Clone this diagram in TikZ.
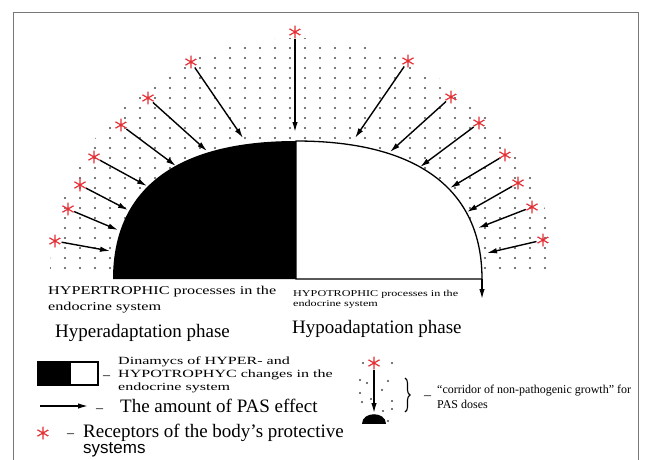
\documentclass[tikz,border=0pt]{standalone}
\usepackage{fontspec}
\setmainfont{Liberation Serif}
\newfontfamily\widefont[FakeStretch=1.35]{Liberation Serif}
\newfontfamily\widerfont[FakeStretch=1.46]{Liberation Serif}
\newfontfamily\plainsans{Liberation Sans}
\usetikzlibrary{arrows.meta,decorations.pathreplacing}
\definecolor{recred}{RGB}{228,48,52}
\definecolor{framegray}{RGB}{120,120,120}
\definecolor{dotgray}{RGB}{75,75,75}

\begin{document}
\begin{tikzpicture}[x=1pt,y=-1pt,>={Latex[length=10pt,width=5.5pt]},
  receptor/.style={circle,inner sep=0pt,minimum size=13pt,
    path picture={\draw[recred,line width=1.2pt]
      (path picture bounding box.center) +(90:6.5pt) -- +(270:6.5pt)
      +(30:6.5pt) -- +(210:6.5pt) +(150:6.5pt) -- +(330:6.5pt);}},
  pas/.style={->,line width=1.4pt},
  pasdot/.style={fill=dotgray},
  txt/.style={inner sep=0pt,anchor=north west,align=left},
  phasetxt/.style={inner sep=0pt,anchor=base west,font=\fontsize{19}{22}\selectfont},
  dashmark/.style={inner sep=0pt,anchor=base west,font=\fontsize{14}{14}\selectfont}]

  \useasboundingbox (0,0) rectangle (645,460);
  \draw[framegray,line width=0.8pt] (13,460) -- (13,12) -- (638,12) -- (638,460);

  % dotted corridor round the semi-ellipse
  \begin{scope}
    \clip (50,276) .. controls (50,145) and (160,38) .. (296,38)
      .. controls (440,38) and (556,150) .. (556,276) -- cycle;
    \foreach \px in {50,65,...,560}
      \foreach \py in {38,48,...,276}
        \fill[pasdot] (\px,\py) circle (1.1pt);
  \end{scope}

  % hyper- and hypotrophic halves
  \fill (113,279) .. controls (113,189) and (176,141) .. (296,141) -- (296,279) -- cycle;
  \filldraw[fill=white,line width=1.3pt] (296,141) .. controls (417,141) and (482,189) .. (482,279) -- (296,279) -- cycle;
  \coordinate (hypoend) at (482,279);
  \coordinate (hypotip) at (482,299);
  \draw[pas] (hypoend) -- (hypotip);

  \node[receptor] (rL1) at (55,241) {};
  \node[receptor] (rL2) at (68,209) {};
  \node[receptor] (rL3) at (80,185) {};
  \node[receptor] (rL4) at (94,157) {};
  \node[receptor] (rL5) at (121,125) {};
  \node[receptor] (rL6) at (148,98) {};
  \node[receptor] (rL7) at (191,62) {};
  \node[receptor] (rT)  at (295,32) {};
  \node[receptor] (rR1) at (408,61) {};
  \node[receptor] (rR2) at (451,97) {};
  \node[receptor] (rR3) at (479,123) {};
  \node[receptor] (rR4) at (505,155) {};
  \node[receptor] (rR5) at (518,183) {};
  \node[receptor] (rR6) at (532,207) {};
  \node[receptor] (rR7) at (543,240) {};

  \coordinate (tL1) at (110,251);
  \coordinate (tL2) at (118,230);
  \coordinate (tL3) at (128,210);
  \coordinate (tL4) at (147,186);
  \coordinate (tL5) at (176,166);
  \coordinate (tL6) at (207,151);
  \coordinate (tL7) at (243,138);
  \coordinate (tT)  at (295,132);
  \coordinate (tR1) at (355,138);
  \coordinate (tR2) at (390,152);
  \coordinate (tR3) at (420,167);
  \coordinate (tR4) at (450,188);
  \coordinate (tR5) at (467,212);
  \coordinate (tR6) at (478,228);
  \coordinate (tR7) at (487,253);

  \path (rL1) edge[pas] (tL1)
        (rL2) edge[pas] (tL2)
        (rL3) edge[pas] (tL3)
        (rL4) edge[pas] (tL4)
        (rL5) edge[pas] (tL5)
        (rL6) edge[pas] (tL6)
        (rL7) edge[pas] (tL7)
        (rT)  edge[pas] (tT)
        (rR1) edge[pas] (tR1)
        (rR2) edge[pas] (tR2)
        (rR3) edge[pas] (tR3)
        (rR4) edge[pas] (tR4)
        (rR5) edge[pas] (tR5)
        (rR6) edge[pas] (tR6)
        (rR7) edge[pas] (tR7);

  \node[txt,font=\widefont\fontsize{12}{15.5}\selectfont] (hypertxt) at (48,286)
    {HYPERTROPHIC processes in the\\endocrine system};
  \node[txt,font=\widefont\fontsize{9}{9.5}\selectfont] (hypotxt) at (293,290.5)
    {HYPOTROPHIC processes in the\\endocrine system};
  \node[phasetxt] (hyperphase) at (55,337) {Hyperadaptation phase};
  \node[phasetxt] (hypophase) at (292,333) {Hypoadaptation phase};

  % legend
  \fill (38,362) rectangle (71,385);
  \draw[line width=1.3pt] (38,362) rectangle (98,385);
  \node[dashmark] (dash1) at (103,379.5) {–};
  \node[txt,font=\widerfont\fontsize{11}{13}\selectfont] (dyntxt) at (118,356.5)
    {Dinamycs of HYPER- and\\HYPOTROPHYC changes in the\\endocrine system};

  \coordinate (pasfrom) at (40,406);
  \coordinate (pasto) at (88,406);
  \draw[pas] (pasfrom) -- (pasto);
  \node[dashmark] (dash2) at (96,412) {–};
  \node[phasetxt] (pastxt) at (120,412) {The amount of PAS effect};

  \node[receptor] (reclegend) at (43,433) {};
  \node[dashmark] (dash3) at (67,437.5) {–};
  \node[txt,font=\fontsize{19}{16}\selectfont] (rectxt) at (83,424)
    {Receptors of the body’s protective\\{\plainsans\fontsize{17}{16}\selectfont systems}};

  % corridor sample
  \foreach \px/\py in {363/363,392/363,360/380,367/383,388/381,360/393,382/390,
                       362/402,371/399,392/401,383/411,392/409,370/421,388/421}
    \fill[pasdot] (\px,\py) circle (1.1pt);
  \node[receptor] (recsmall) at (374,363) {};
  \coordinate (dometop) at (374,413);
  \draw[pas] (recsmall) -- (dometop);
  \fill (362,424) .. controls (362,411) and (386,411) .. (386,424) -- cycle;
  \coordinate (bracetop) at (405,378);
  \coordinate (bracebot) at (405,412);
  \draw[decorate,decoration={brace,amplitude=5pt},line width=1.1pt] (bracetop) -- (bracebot);
  \node[dashmark] (dash4) at (424,399) {–};
  \node[txt,font=\fontsize{12}{15}\selectfont] (corrtxt) at (437,385)
    {“corridor of non-pathogenic growth” for\\PAS doses};
\end{tikzpicture}
\end{document}
